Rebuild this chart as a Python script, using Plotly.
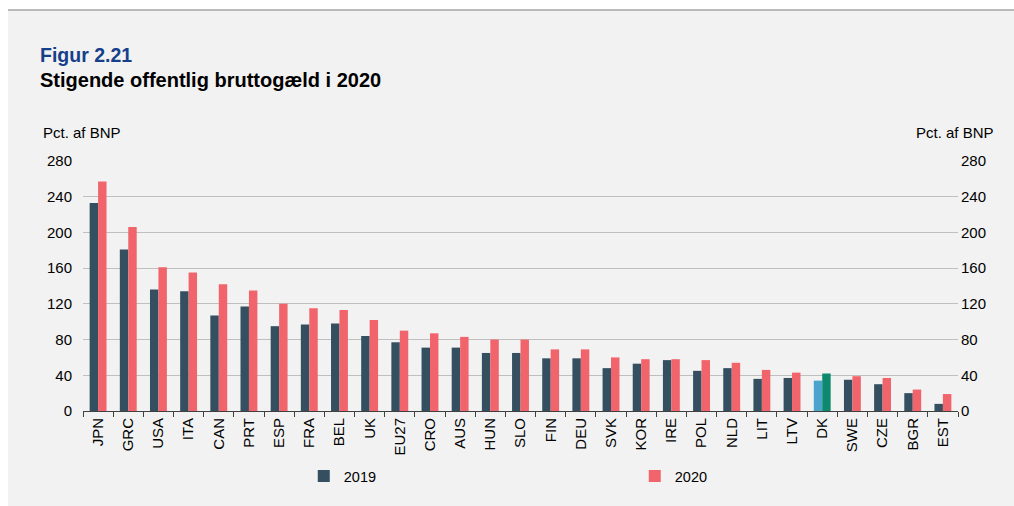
import plotly.graph_objects as go

countries = ["JPN", "GRC", "USA", "ITA", "CAN", "PRT", "ESP", "FRA", "BEL", "UK",
             "EU27", "CRO", "AUS", "HUN", "SLO", "FIN", "DEU", "SVK", "KOR", "IRE",
             "POL", "NLD", "LIT", "LTV", "DK", "SWE", "CZE", "BGR", "EST"]
debt_2019 = [233, 181, 136, 134, 107, 117, 95, 97, 98, 84,
             77, 71, 71, 65, 65, 59, 59, 48, 53, 57,
             45, 48, 36, 37, 34, 35, 30, 20, 8]
debt_2020 = [257, 206, 161, 155, 142, 135, 120, 115, 113, 102,
             90, 87, 83, 80, 80, 69, 69, 60, 58, 58,
             57, 54, 46, 43, 42, 39, 37, 24, 19]
y_ticks = [0, 40, 80, 120, 160, 200, 240, 280]

DARK = "#344f60"
RED = "#f2646b"
colors_2019 = ["#4ba4cc" if c == "DK" else DARK for c in countries]
colors_2020 = ["#0d8a6d" if c == "DK" else RED for c in countries]

FONT = "Liberation Sans, Arial, sans-serif"
BG = "#f2f2f2"

fig = go.Figure()
fig.add_trace(go.Bar(x=countries, y=debt_2019, name="2019",
                     marker=dict(color=colors_2019, line_width=0)))
fig.add_trace(go.Bar(x=countries, y=debt_2020, name="2020",
                     marker=dict(color=colors_2020, line_width=0)))
# invisible trace so the right-hand axis is drawn
fig.add_trace(go.Scatter(x=countries, y=debt_2020, yaxis="y2", mode="none",
                         showlegend=False, hoverinfo="skip"))

fig.update_layout(
    width=1014, height=506,
    margin=dict(l=83, r=56, t=161, b=95),
    paper_bgcolor=BG, plot_bgcolor=BG,
    font=dict(family=FONT, size=15, color="#000000"),
    barmode="group", bargap=0.44, bargroupgap=0,
    xaxis=dict(
        type="category", tickangle=-90, tickson="boundaries",
        ticks="outside", ticklen=5, tickcolor="#404040", tickwidth=1,
        showline=True, linecolor="#404040", linewidth=1,
        showgrid=False, tickfont=dict(size=15),
    ),
    yaxis=dict(
        range=[0, 280], tickvals=y_ticks, showgrid=True,
        gridcolor="#bfbfbf", gridwidth=1, zeroline=False,
        ticks="", ticklabelstandoff=10, tickfont=dict(size=15),
    ),
    yaxis2=dict(
        range=[0, 280], tickvals=y_ticks, overlaying="y", side="right",
        showgrid=False, zeroline=False, ticks="", ticklabelstandoff=2,
        tickfont=dict(size=15),
    ),
    showlegend=True,
    legend=dict(
        orientation="h", x=0.2523, xanchor="left", y=-0.196, yanchor="top",
        entrywidth=286, entrywidthmode="pixels",
        font=dict(size=14.5), bgcolor="rgba(0,0,0,0)",
        traceorder="normal",
    ),
    annotations=[
        dict(text="<b>Figur 2.21</b>", x=-0.051, y=1.424, xref="paper", yref="paper",
             xanchor="left", yanchor="middle", showarrow=False,
             font=dict(size=19.5, color="#173f8a")),
        dict(text="<b>Stigende offentlig bruttogæld i 2020</b>", x=-0.051, y=1.324,
             xref="paper", yref="paper", xanchor="left", yanchor="middle",
             showarrow=False, font=dict(size=20, color="#000000")),
        dict(text="Pct. af BNP", x=-0.048, y=1.112, xref="paper", yref="paper",
             xanchor="left", yanchor="middle", showarrow=False, font=dict(size=15)),
        dict(text="Pct. af BNP", x=1.043, y=1.112, xref="paper", yref="paper",
             xanchor="right", yanchor="middle", showarrow=False, font=dict(size=15)),
    ],
    shapes=[
        # white margin above and left of the grey panel
        dict(type="rect", xref="paper", yref="paper", x0=-0.2, x1=1.2,
             y0=1.604, y1=1.7, fillcolor="white", line_width=0, layer="below"),
        dict(type="rect", xref="paper", yref="paper", x0=-0.2, x1=-0.0857,
             y0=-0.5, y1=1.7, fillcolor="white", line_width=0, layer="below"),
        # thin grey rule along the top of the panel
        dict(type="line", xref="paper", yref="paper", x0=-0.0857, x1=1.1,
             y0=1.604, y1=1.604, line=dict(color="#a6a6a6", width=1.5)),
    ],
)

fig.write_html("out.html", config={"displayModeBar": False},
               post_script="document.body.style.margin = '0';")
